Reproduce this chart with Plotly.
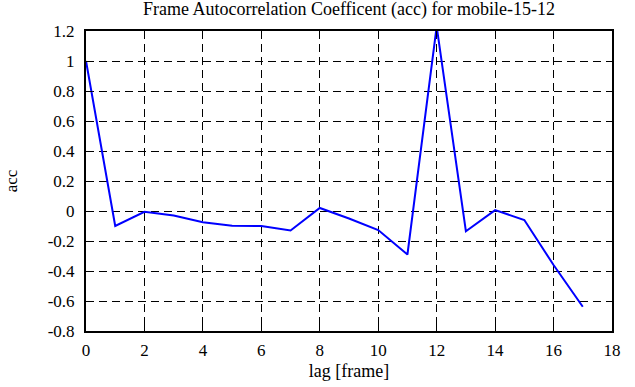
import plotly.graph_objects as go

lags = list(range(18))
acc = [1.0, -0.10, -0.005, -0.03, -0.075, -0.098, -0.10, -0.13, 0.02, -0.05,
       -0.127, -0.29, 1.23, -0.135, 0.006, -0.06, -0.36, -0.638]
x_ticks = [0, 2, 4, 6, 8, 10, 12, 14, 16, 18]
y_ticks = [-0.8, -0.6, -0.4, -0.2, 0, 0.2, 0.4, 0.6, 0.8, 1, 1.2]
y_labels = ["-0.8", "-0.6", "-0.4", "-0.2", "0", "0.2", "0.4", "0.6", "0.8", "1", "1.2"]

FONT = "Liberation Serif"

fig = go.Figure()
fig.add_trace(go.Scatter(x=lags, y=acc, mode="lines",
                         line=dict(color="#0000ff", width=2),
                         cliponaxis=False, showlegend=False, hoverinfo="skip"))

axis_common = dict(showline=True, linecolor="black", linewidth=2, mirror="ticks",
                   ticks="inside", ticklen=6, tickcolor="black", tickwidth=1,
                   showgrid=True, gridcolor="black", gridwidth=1, griddash="8px,5px",
                   zeroline=False, automargin=False,
                   tickfont=dict(family=FONT, size=17, color="black"))

fig.update_xaxes(range=[0, 18], tickvals=x_ticks, ticktext=[str(v) for v in x_ticks],
                 ticklabelstandoff=3,
                 title=dict(text="lag [frame]", font=dict(family=FONT, size=18, color="black"),
                            standoff=5),
                 **axis_common)
fig.update_yaxes(range=[-0.8, 1.2], tickvals=y_ticks, ticktext=y_labels,
                 ticklabelstandoff=6,
                 title=dict(text="acc", font=dict(family=FONT, size=17, color="black"),
                            standoff=26),
                 **axis_common)

fig.update_layout(
    width=635, height=387,
    margin=dict(l=86, r=23, t=31, b=56, autoexpand=False),
    paper_bgcolor="white", plot_bgcolor="white",
    font=dict(family=FONT, color="black"),
    hovermode=False,
    title=dict(text="Frame Autocorrelation Coefficent (acc) for mobile-15-12",
               font=dict(family=FONT, size=18, color="black"), automargin=False,
               x=0.5, xref="paper", xanchor="center", y=0.977, yref="container", yanchor="middle"),
)

fig.write_html("out.html", config={"displayModeBar": False, "staticPlot": True},
               post_script="document.body.style.margin='0px';")
